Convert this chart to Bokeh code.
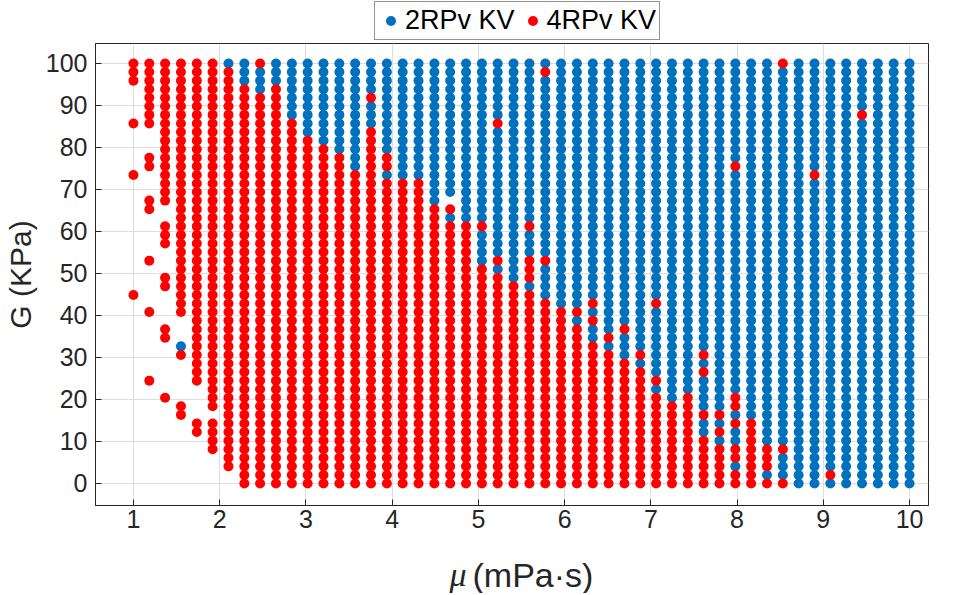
from bokeh.plotting import figure
from bokeh.layouts import column
from bokeh.models import (Legend, LegendItem, Label, FixedTicker, Range1d,
                          ColumnDataSource)
from bokeh.embed import file_html
from bokeh.resources import INLINE

# ---- data ----
MU = [1.000, 1.184, 1.367, 1.551, 1.735, 1.918, 2.102, 2.286, 2.469, 2.653,
      2.837, 3.020, 3.204, 3.388, 3.571, 3.755, 3.939, 4.122, 4.306, 4.490,
      4.673, 4.857, 5.041, 5.224, 5.408, 5.592, 5.776, 5.959, 6.143, 6.327,
      6.510, 6.694, 6.878, 7.061, 7.245, 7.429, 7.612, 7.796, 7.980, 8.163,
      8.347, 8.531, 8.714, 8.898, 9.082, 9.265, 9.449, 9.633, 9.816, 10.000]

G = [0.00, 2.04, 4.08, 6.12, 8.16, 10.20, 12.24, 14.29, 16.33, 18.37,
     20.41, 22.45, 24.49, 26.53, 28.57, 30.61, 32.65, 34.69, 36.73, 38.78,
     40.82, 42.86, 44.90, 46.94, 48.98, 51.02, 53.06, 55.10, 57.14, 59.18,
     61.22, 63.27, 65.31, 67.35, 69.39, 71.43, 73.47, 75.51, 77.55, 79.59,
     81.63, 83.67, 85.71, 87.76, 89.80, 91.84, 93.88, 95.92, 97.96, 100.00]

# best model per grid cell, one string per mu column, read from G=100 down to G=0
# b = 2RPv KV, r = 4RPv KV, . = no point ; number = run length
COL_RUNS = [
    "r3 .4 r1 .5 r1 .13 r1 .22",
    "r8 .3 r2 .3 r2 .5 r1 .5 r1 .7 r1 .12",
    "r17 .2 r3 .3 r2 .4 r2 .6 r1 .10",
    "r30 .3 b1 r1 .5 r2 .8",
    "r38 .4 r2 .6",
    "r41 .1 r4 .4",
    "b1 r47 .2",
    "b3 r47",
    "r1 b3 r46",
    "b3 r47",
    "b7 r43",
    "b9 r41",
    "b10 r40",
    "b11 r39",
    "b13 r37",
    "b4 r1 b3 r42",
    "b11 r2 b1 r36",
    "b14 r36",
    "b14 r36",
    "b17 r33",
    "b16 .1 r1 b1 r31",
    "b19 r31",
    "b19 r1 b4 r26",
    "b7 r1 b15 r1 b1 r25",
    "b26 r24",
    "b19 r1 b3 r3 b1 r23",
    "b1 r1 b21 r1 b4 r22",
    "b29 r21",
    "b29 r1 b1 r19",
    "b28 r1 b1 r1 b2 r17",
    "b32 r1 b1 r16",
    "b31 r1 b3 r15",
    "b34 r1 b1 r14",
    "b28 r1 b8 r1 b1 r11",
    "b40 r10",
    "b39 r11",
    "b34 r1 b1 r1 b4 r1 b2 r6",
    "b41 r1 b1 r1 b1 r5",
    "b12 r1 b26 r2 b1 r1 b2 r2 b1 r2",
    "b42 r8",
    "b45 r3 b1 r1",
    "r1 b44 r1 b3 r1",
    "b50",
    "b13 r1 b36",
    "b48 r1 b1",
    "b50",
    "b6 r1 b43",
    "b50",
    "b50",
    "b50",
]

SERIES = ["2RPv KV", "4RPv KV"]
COLORS = ["#0072BD", "#FF0000"]
X_TICKS = [1, 2, 3, 4, 5, 6, 7, 8, 9, 10]
Y_TICKS = [0, 10, 20, 30, 40, 50, 60, 70, 80, 90, 100]
X_LABEL_SYM = "μ"
X_LABEL_UNIT = "(mPa·s)"
Y_LABEL = "G (KPa)"


def expand(runs):
    cells = []
    for tok in runs.split():
        cells.extend(tok[0] * int(tok[1:]))
    return cells


pts = {"b": ([], []), "r": ([], [])}
for i, runs in enumerate(COL_RUNS):
    cells = expand(runs)
    for k, c in enumerate(cells[:len(G)]):
        j = len(G) - 1 - k
        if c in pts:
            pts[c][0].append(MU[i])
            pts[c][1].append(G[j])

FONT = "Liberation Sans"
AX = "#262626"
W = 947

# ---------------- legend strip (top) ----------------
lf = figure(width=W, height=42, x_range=Range1d(0, 1), y_range=Range1d(0, 1),
            x_axis_type=None, y_axis_type=None, min_border=0,
            output_backend="svg", toolbar_location=None)
lf.outline_line_color = None
dummies = []
for col in COLORS:
    dummies.append(lf.scatter(x=[-5], y=[-5], size=10, fill_color=col,
                              line_color=None, marker="circle"))
legend = Legend(items=[LegendItem(label=n, renderers=[r])
                       for n, r in zip(SERIES, dummies)],
                orientation="horizontal", location=(279, 2),
                label_text_font=FONT, label_text_font_size="27px",
                label_text_color="black",
                glyph_width=25, glyph_height=25, label_standoff=2,
                spacing=5, padding=3, margin=0,
                border_line_color=AX, border_line_width=1,
                background_fill_color="white", background_fill_alpha=1)
lf.add_layout(legend)

# ---------------- main plot ----------------
p = figure(width=W, height=499,
           min_border_left=89, min_border_right=19,
           min_border_top=1, min_border_bottom=36,
           x_range=Range1d(0.56, 10.22), y_range=Range1d(-5.24, 104.76),
           output_backend="svg", toolbar_location=None)

p.background_fill_color = "white"
p.outline_line_color = AX
p.outline_line_width = 1

for ax in (p.xaxis, p.yaxis):
    ax.axis_line_color = AX
    ax.major_tick_line_color = AX
    ax.major_tick_in = 6
    ax.major_tick_out = 0
    ax.minor_tick_line_color = None
    ax.major_label_text_font = FONT
    ax.major_label_text_font_size = "25px"
    ax.major_label_text_color = AX

p.xaxis.ticker = FixedTicker(ticks=X_TICKS)
p.yaxis.ticker = FixedTicker(ticks=Y_TICKS)
p.xaxis.major_label_standoff = 4
p.yaxis.major_label_standoff = 8

p.yaxis.axis_label = Y_LABEL
p.yaxis.axis_label_text_font = FONT
p.yaxis.axis_label_text_font_size = "30px"
p.yaxis.axis_label_text_font_style = "normal"
p.yaxis.axis_label_text_color = AX
p.yaxis.axis_label_standoff = 6

p.grid.grid_line_color = "#dedede"
p.grid.grid_line_width = 1
p.xgrid.ticker = FixedTicker(ticks=X_TICKS)
p.ygrid.ticker = FixedTicker(ticks=Y_TICKS)

for key, col in zip(["b", "r"], COLORS):
    src = ColumnDataSource(dict(x=pts[key][0], y=pts[key][1]))
    p.scatter("x", "y", source=src, size=10, fill_color=col,
              line_color=None, marker="circle")

# ---------------- x-axis title strip (bottom) ----------------
xf = figure(width=W, height=52, x_range=Range1d(0, 1), y_range=Range1d(0, 1),
            x_axis_type=None, y_axis_type=None, min_border=0,
            output_backend="svg", toolbar_location=None)
xf.outline_line_color = None
xf.add_layout(Label(x=354, y=19, x_units="screen", y_units="screen",
                    text=X_LABEL_SYM, text_font="Liberation Serif",
                    text_font_style="italic", text_font_size="34px",
                    text_color=AX, text_baseline="middle"))
xf.add_layout(Label(x=377, y=19, x_units="screen", y_units="screen",
                    text=X_LABEL_UNIT, text_font=FONT,
                    text_font_size="34px", text_color=AX,
                    text_baseline="middle"))

layout = column(lf, p, xf, spacing=0)
open("out.html", "w").write(file_html(layout, INLINE))
